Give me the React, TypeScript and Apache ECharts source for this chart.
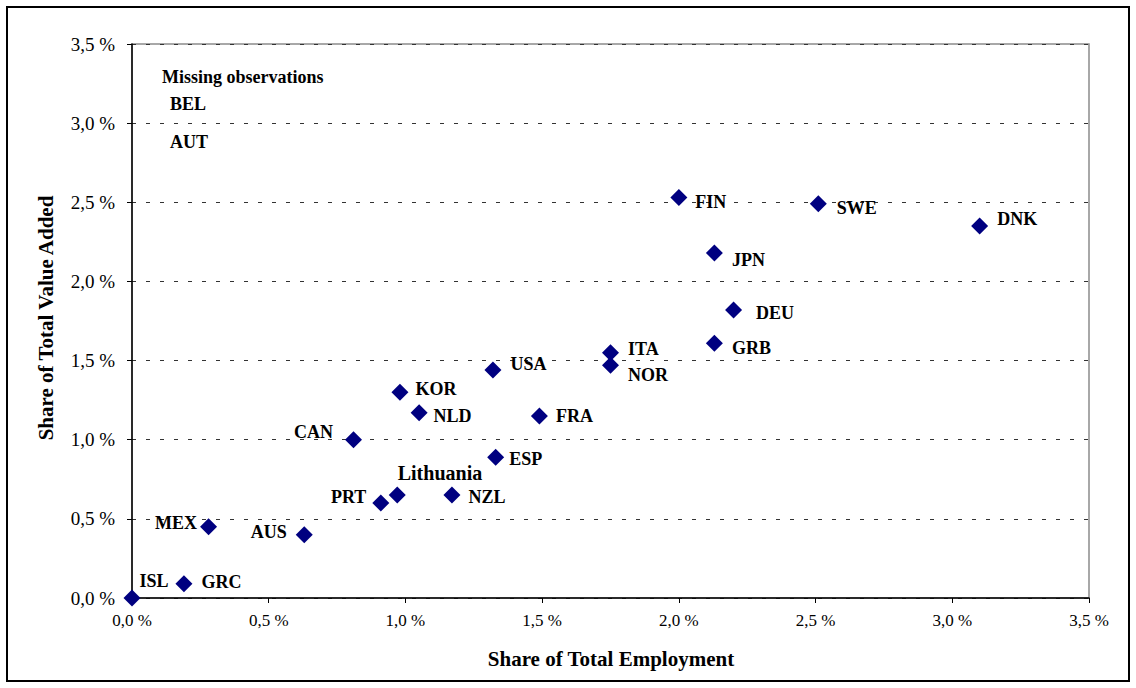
import React, { useEffect, useRef } from "react";
import * as echarts from "echarts";

const countries = ["ISL", "GRC", "MEX", "AUS", "CAN", "PRT", "Lithuania", "KOR", "NLD", "NZL", "USA", "ESP", "FRA", "ITA", "NOR", "FIN", "JPN", "GRB", "DEU", "SWE", "DNK"];
const employmentShare = [0.0, 0.19, 0.28, 0.63, 0.81, 0.91, 0.97, 0.98, 1.05, 1.17, 1.32, 1.33, 1.49, 1.75, 1.75, 2.0, 2.13, 2.13, 2.2, 2.51, 3.1];
const valueAddedShare = [0.0, 0.09, 0.45, 0.4, 1.0, 0.6, 0.65, 1.3, 1.17, 0.65, 1.44, 0.89, 1.15, 1.55, 1.47, 2.53, 2.18, 1.61, 1.82, 2.49, 2.35];
const missingTitle = "Missing observations";
const missingCountries = ["BEL", "AUT"];
const xTitle = "Share of Total Employment";
const yTitle = "Share of Total Value Added";

// label placement: [side, dx, dy]
const labelPlacement: Record<string, [string, number, number]> = {
  ISL: ["right", -1, -17],
  GRC: ["right", 9, -2],
  MEX: ["left", -3, -4],
  AUS: ["left", -9, -3],
  CAN: ["left", -12, -8],
  PRT: ["left", -6, -6],
  Lithuania: ["right", -8, -22],
  KOR: ["right", 7, -3],
  NLD: ["right", 6, 3],
  NZL: ["right", 8, 2],
  USA: ["right", 9, -6],
  ESP: ["right", 5, 2],
  FRA: ["right", 8, 0],
  ITA: ["right", 9, -4],
  NOR: ["right", 9, 10],
  FIN: ["right", 8, 4],
  JPN: ["right", 9, 7],
  GRB: ["right", 9, 5],
  DEU: ["right", 14, 3],
  SWE: ["right", 10, 4],
  DNK: ["right", 9, -7],
};

const FONT = "'Liberation Serif', 'Times New Roman', serif";
const fmt = (v: number) => v.toFixed(1).replace(".", ",") + " %";

export default function App() {
  const ref = useRef<HTMLDivElement>(null);
  useEffect(() => {
    if (!ref.current) return;
    const chart = echarts.init(ref.current, null, { renderer: "svg" });
    const data = countries.map((c, i) => {
      const p = labelPlacement[c] || ["right", 8, 0];
      return {
        name: c,
        value: [employmentShare[i], valueAddedShare[i]],
        label: {
          position: p[0],
          offset: [p[1], p[2]],
          fontSize: c === "Lithuania" ? 20 : 18,
        },
      };
    });
    chart.setOption({
      animation: false,
      backgroundColor: "#fff",
      grid: {
        left: 132,
        top: 44,
        right: 47,
        bottom: 90,
        show: true,
        borderColor: "#8c8c8c",
        borderWidth: 1.5,
        backgroundColor: "transparent",
      },
      xAxis: {
        type: "value",
        min: 0,
        max: 3.5,
        interval: 0.5,
        axisLine: { show: true, onZero: false, lineStyle: { color: "#000", width: 1.5 } },
        axisTick: { show: true, inside: false, length: 5, lineStyle: { color: "#000" } },
        splitLine: { show: false },
        axisLabel: { formatter: fmt, fontFamily: FONT, fontSize: 17, color: "#000", margin: 14 },
      },
      yAxis: {
        type: "value",
        min: 0,
        max: 3.5,
        interval: 0.5,
        axisLine: { show: true, onZero: false, lineStyle: { color: "#000", width: 1.5 } },
        axisTick: { show: true, inside: false, length: 5, lineStyle: { color: "#000" } },
        splitLine: { show: true, lineStyle: { color: "#333", type: [4, 10], width: 1 } },
        axisLabel: { formatter: fmt, fontFamily: FONT, fontSize: 19, color: "#000", margin: 17 },
      },
      series: [
        {
          type: "scatter",
          symbol: "diamond",
          symbolSize: 17,
          itemStyle: { color: "#000080", opacity: 1 },
          label: {
            show: true,
            formatter: "{b}",
            distance: 0,
            fontFamily: FONT,
            fontWeight: "bold",
            fontSize: 18,
            color: "#000",
          },
          data,
        },
      ],
      graphic: [
        {
          type: "rect",
          shape: { x: 7, y: 7, width: 1122, height: 674 },
          style: { fill: "none", stroke: "#000", lineWidth: 2 },
          silent: true,
        },
        {
          type: "text",
          x: 162,
          y: 77,
          style: { text: missingTitle, font: `bold 18px ${FONT}`, fill: "#000", verticalAlign: "middle" },
        },
        ...missingCountries.map((c, i) => ({
          type: "text",
          x: 170,
          y: i === 0 ? 104 : 142,
          style: { text: c, font: `bold 18px ${FONT}`, fill: "#000", verticalAlign: "middle" },
        })),
        {
          type: "text",
          x: 611,
          y: 659,
          style: { text: xTitle, font: `bold 21px ${FONT}`, fill: "#000", align: "center", verticalAlign: "middle" },
        },
        {
          type: "text",
          x: 46,
          y: 318,
          rotation: Math.PI / 2,
          style: { text: yTitle, font: `bold 21px ${FONT}`, fill: "#000", align: "center", verticalAlign: "middle" },
        },
      ],
    });
    return () => chart.dispose();
  }, []);
  return <div ref={ref} style={{ position: "fixed", left: 0, top: 0, width: 1136, height: 688 }} />;
}
